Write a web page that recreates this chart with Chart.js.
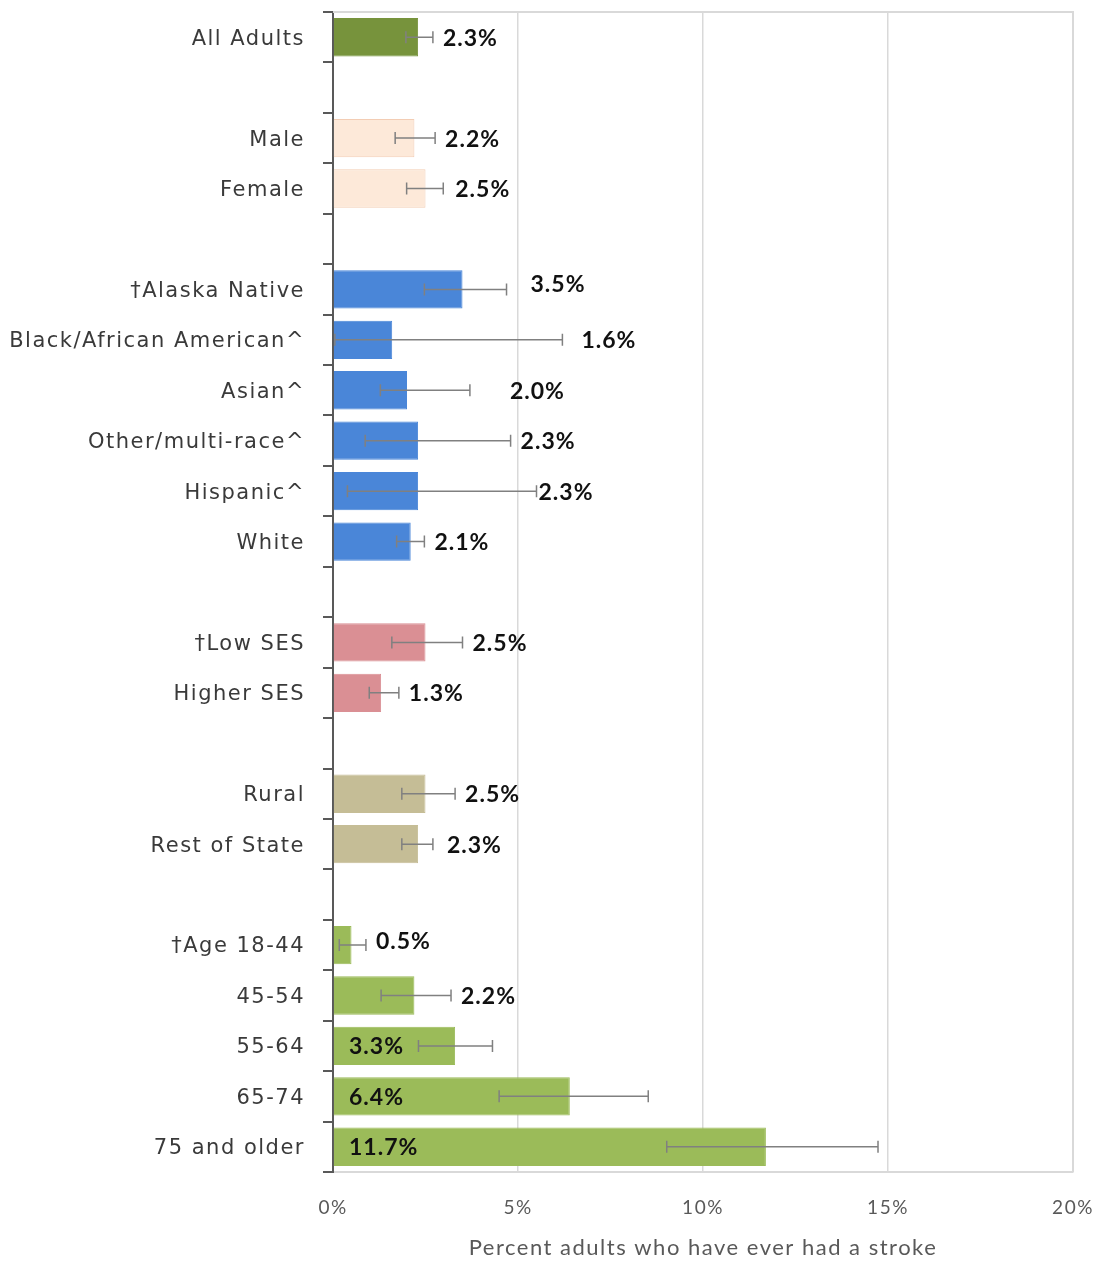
<!DOCTYPE html>
<html>
<head>
<meta charset="utf-8">
<title>Stroke prevalence</title>
<script src="https://cdn.jsdelivr.net/npm/chart.js@4.4.1/dist/chart.umd.min.js"></script>
<style>
  html, body { margin: 0; padding: 0; background: #fff; }
  #wrap { width: 1099px; height: 1262px; position: relative; }
</style>
</head>
<body>
<div id="wrap"><canvas id="strokeChart" width="1099" height="1262"></canvas></div>
<script>
// --- Data ---
// empty strings are the spacer rows between groups
const categories = [
  "All Adults", "",
  "Male", "Female", "",
  "†Alaska Native", "Black/African American^", "Asian^", "Other/multi-race^", "Hispanic^", "White", "",
  "†Low SES", "Higher SES", "",
  "Rural", "Rest of State", "",
  "†Age 18-44", "45-54", "55-64", "65-74", "75 and older"
];
const percents = [
  2.3, null,
  2.2, 2.5, null,
  3.5, 1.6, 2.0, 2.3, 2.3, 2.1, null,
  2.5, 1.3, null,
  2.5, 2.3, null,
  0.5, 2.2, 3.3, 6.4, 11.7
];
// 95% confidence limits
const ciLow = [
  1.97, null,
  1.68, 1.99, null,
  2.47, 0.05, 1.28, 0.87, 0.39, 1.72, null,
  1.59, 0.98, null,
  1.86, 1.86, null,
  0.17, 1.30, 2.31, 4.49, 9.02
];
const ciHigh = [
  2.70, null,
  2.76, 2.98, null,
  4.69, 6.20, 3.70, 4.80, 5.50, 2.47, null,
  3.50, 1.78, null,
  3.30, 2.70, null,
  0.89, 3.19, 4.31, 8.52, 14.73
];
const xTicks = [0, 5, 10, 15, 20];

// --- Styles ---
const OLIVE = "#77933c", PEACH = "#fde9d9", BLUE = "#4a86d8",
      ROSE = "#da8f94", TAN = "#c5bd96", GREEN = "#9bbb59";
const barColors = [
  OLIVE, null,
  PEACH, PEACH, null,
  BLUE, BLUE, BLUE, BLUE, BLUE, BLUE, null,
  ROSE, ROSE, null,
  TAN, TAN, null,
  GREEN, GREEN, GREEN, GREEN, GREEN
];
const barBorders = barColors.map(c => c === PEACH ? "#f3cdb4" : c);

// label placement tweaks in pixels [dx, dy]
const labelNudge = { 3: [2, 0], 5: [14, -6], 6: [9, 0], 7: [30, 0], 9: [-8, 0], 16: [4, 0], 18: [0, -4] };
const labelInside = [20, 21, 22];

// --- Plugins ---
const frame = {
  id: "frame",
  beforeDraw(chart) {
    chart.ctx.letterSpacing = "1.5px";
  },
  beforeDatasetsDraw(chart) {
    const { ctx, chartArea: a } = chart;
    ctx.save();
    ctx.strokeStyle = "#d9d9d9";
    ctx.lineWidth = 2;
    ctx.beginPath();
    ctx.moveTo(a.left, a.top);
    ctx.lineTo(a.right, a.top);
    ctx.lineTo(a.right, a.bottom);
    ctx.stroke();
    ctx.restore();
  }
};

const errorBars = {
  id: "errorBars",
  afterDatasetsDraw(chart) {
    const { ctx } = chart;
    const x = chart.scales.x;
    const meta = chart.getDatasetMeta(0);
    ctx.save();
    ctx.strokeStyle = "#808080";
    ctx.lineWidth = 1.5;
    meta.data.forEach((bar, i) => {
      if (ciLow[i] == null) return;
      const y = bar.y;
      const x1 = x.getPixelForValue(ciLow[i]);
      const x2 = x.getPixelForValue(ciHigh[i]);
      ctx.beginPath();
      ctx.moveTo(x1, y); ctx.lineTo(x2, y);
      ctx.moveTo(x1, y - 6); ctx.lineTo(x1, y + 6);
      ctx.moveTo(x2, y - 6); ctx.lineTo(x2, y + 6);
      ctx.stroke();
    });
    ctx.restore();
  }
};

const valueLabels = {
  id: "valueLabels",
  afterDatasetsDraw(chart) {
    const { ctx, chartArea } = chart;
    const x = chart.scales.x;
    const meta = chart.getDatasetMeta(0);
    ctx.save();
    ctx.font = "bold 23px Lato";
    ctx.letterSpacing = "1px";
    ctx.fillStyle = "#111";
    ctx.textAlign = "left";
    ctx.textBaseline = "middle";
    meta.data.forEach((bar, i) => {
      if (percents[i] == null) return;
      let tx;
      if (labelInside.includes(i)) {
        tx = chartArea.left + 16;
      } else {
        tx = Math.max(x.getPixelForValue(percents[i]), x.getPixelForValue(ciHigh[i])) + 10;
      }
      const [dx, dy] = labelNudge[i] || [0, 0];
      ctx.fillText(percents[i].toFixed(1) + "%", tx + dx, bar.y + dy + 1);
    });
    ctx.restore();
  }
};

// --- Chart ---
new Chart(document.getElementById("strokeChart"), {
  type: "bar",
  data: {
    labels: categories,
    datasets: [{
      data: percents,
      backgroundColor: barColors,
      borderColor: barBorders,
      borderWidth: 1,
      barPercentage: 0.76,
      categoryPercentage: 1
    }]
  },
  options: {
    indexAxis: "y",
    responsive: false,
    animation: false,
    layout: { padding: { top: 12, right: 26, left: 0, bottom: 0 } },
    plugins: {
      legend: { display: false },
      tooltip: { enabled: false }
    },
    scales: {
      x: {
        min: 0,
        max: 20,
        afterBuildTicks: s => { s.ticks = xTicks.map(v => ({ value: v })); },
        afterFit: s => { s.height = 90; s.paddingLeft = 0; s.paddingRight = 0; },
        grid: { color: "#d9d9d9", lineWidth: 1.5, drawTicks: false },
        border: { color: "#d9d9d9", width: 2 },
        ticks: {
          padding: 24,
          color: "#595959",
          font: { family: "Lato", size: 19 },
          callback: v => v + "%"
        },
        title: {
          display: true,
          text: "Percent adults who have ever had a stroke",
          color: "#595959",
          font: { family: "Lato", size: 22 },
          padding: { top: 0, bottom: 1 }
        }
      },
      y: {
        afterFit: s => { s.width = 333; s.paddingTop = 0; s.paddingBottom = 0; },
        grid: { drawOnChartArea: false, offset: true, tickLength: 10, color: "#595959", lineWidth: 2 },
        border: { color: "#595959", width: 2 },
        ticks: {
          padding: 18,
          labelOffset: 2,
          autoSkip: false,
          color: "#3a3a3a",
          font: { family: "DejaVu Sans", size: 21 }
        }
      }
    }
  },
  plugins: [frame, errorBars, valueLabels]
});
</script>
</body>
</html>
